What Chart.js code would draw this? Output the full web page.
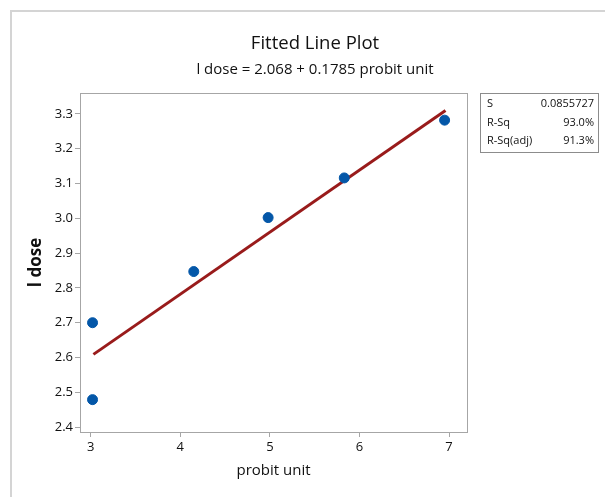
<!DOCTYPE html>
<html>
<head>
<meta charset="utf-8">
<script src="https://cdn.jsdelivr.net/npm/chart.js@4"></script>
<style>
  html, body { margin: 0; padding: 0; background: #fff; }
  #wrap { width: 605px; height: 497px; position: relative; }
</style>
</head>
<body>
<div id="wrap"><canvas id="plot" width="605" height="497"></canvas></div>
<script>
// data
const probitUnit = [3.02, 3.02, 4.15, 4.98, 5.83, 6.95];
const logDose = [2.700, 2.479, 2.847, 3.002, 3.116, 3.282];
// fitted line end points: l dose = 2.068 + 0.1785 probit unit
const fitX = [3.03, 6.96];
const fitY = [2.609, 3.310];

const xTicks = [3, 4, 5, 6, 7];
const yTicks = [2.4, 2.5, 2.6, 2.7, 2.8, 2.9, 3.0, 3.1, 3.2, 3.3];

const statLabels = ["S", "R-Sq", "R-Sq(adj)"];
const statValues = ["0.0855727", "93.0%", "91.3%"];

const FONT = "'Open Sans', 'Noto Sans', sans-serif";
const TEXT = "#111111";
const AXIS_GREY = "#a6a6a6";

// extra drawing: frame lines, titles, plot box, stats table
const extras = {
    id: "extras",
    afterDraw(chart) {
        const ctx = chart.ctx;
        const a = chart.chartArea;
        ctx.save();

        // light outer frame (top and left only)
        ctx.strokeStyle = "#d4d4d4";
        ctx.lineWidth = 2;
        ctx.beginPath();
        ctx.moveTo(11, 497);
        ctx.lineTo(11, 11);
        ctx.lineTo(605, 11);
        ctx.stroke();

        // plot box
        ctx.strokeStyle = AXIS_GREY;
        ctx.lineWidth = 1;
        ctx.strokeRect(a.left + 0.5, a.top + 0.5, a.right - a.left, a.bottom - a.top);

        // titles
        ctx.fillStyle = TEXT;
        ctx.textAlign = "center";
        ctx.textBaseline = "middle";
        ctx.font = "18.5px " + FONT;
        ctx.fillText("Fitted Line Plot", 315, 44);
        ctx.font = "15px " + FONT;
        ctx.fillText("l dose = 2.068 + 0.1785 probit unit", 315, 70);

        // stats table
        ctx.strokeStyle = "#8c8c8c";
        ctx.strokeRect(480.5, 93.5, 118, 59);
        ctx.font = "11px " + FONT;
        for (let i = 0; i < statLabels.length; i++) {
            const y = 104 + i * 18.5;
            ctx.textAlign = "left";
            ctx.fillText(statLabels[i], 487, y);
            ctx.textAlign = "right";
            ctx.fillText(statValues[i], 594, y);
        }
        ctx.restore();
    }
};

new Chart(document.getElementById("plot"), {
    type: "scatter",
    data: {
        datasets: [
            {
                label: "Regression",
                type: "line",
                data: fitX.map((x, i) => ({ x: x, y: fitY[i] })),
                borderColor: "#991b1b",
                borderWidth: 3,
                pointRadius: 0,
                fill: false,
                order: 2
            },
            {
                label: "Data",
                data: probitUnit.map((x, i) => ({ x: x, y: logDose[i] })),
                backgroundColor: "#0457a8",
                borderColor: "#0457a8",
                pointRadius: 5,
                order: 1
            }
        ]
    },
    options: {
        responsive: false,
        animation: false,
        devicePixelRatio: 1,
        layout: {
            padding: { top: 93, right: 138, left: 26, bottom: 13 }
        },
        plugins: {
            legend: { display: false },
            tooltip: { enabled: false }
        },
        scales: {
            x: {
                type: "linear",
                min: 2.88,
                max: 7.2,
                afterBuildTicks: function(scale) {
                    scale.ticks = xTicks.map(v => ({ value: v }));
                },
                afterFit: function(scale) { scale.height = 52; },
                grid: {
                    drawOnChartArea: false,
                    drawTicks: true,
                    tickLength: 5,
                    color: AXIS_GREY
                },
                border: { color: AXIS_GREY },
                ticks: {
                    color: TEXT,
                    font: { family: FONT, size: 13 },
                    padding: 2,
                    maxRotation: 0
                },
                title: {
                    display: true,
                    text: "probit unit",
                    color: TEXT,
                    font: { family: FONT, size: 15 },
                    padding: { top: 8 }
                }
            },
            y: {
                type: "linear",
                min: 2.386,
                max: 3.36,
                afterBuildTicks: function(scale) {
                    scale.ticks = yTicks.map(v => ({ value: v }));
                },
                afterFit: function(scale) { scale.width = 54; },
                grid: {
                    drawOnChartArea: false,
                    drawTicks: true,
                    tickLength: 5,
                    color: AXIS_GREY
                },
                border: { color: AXIS_GREY },
                ticks: {
                    color: TEXT,
                    font: { family: FONT, size: 13 },
                    padding: 2,
                    callback: function(value) { return value.toFixed(1); }
                },
                title: {
                    display: true,
                    text: "l dose",
                    color: TEXT,
                    font: { family: FONT, size: 17, weight: "bold" },
                    padding: { top: 0, bottom: 0 }
                }
            }
        }
    },
    plugins: [extras]
});
</script>
</body>
</html>
